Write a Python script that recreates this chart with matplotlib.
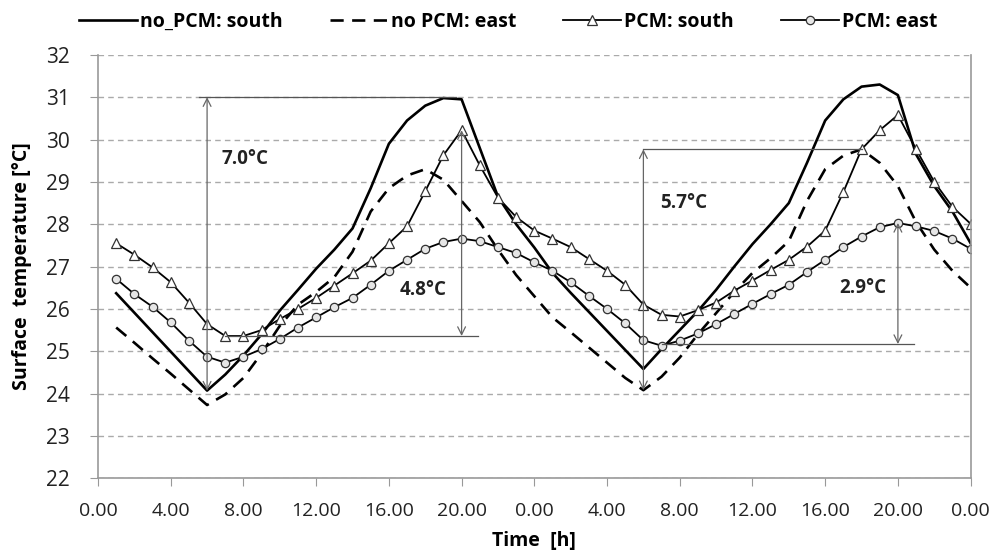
import matplotlib
matplotlib.use("Agg")
import matplotlib.pyplot as plt
import numpy as np

plt.rcParams['font.family'] = ['Open Sans', 'DejaVu Sans']

# hourly values, hours 1..48 (two days)
hours = list(range(1, 49))

nopcm_south = [26.37, 25.91, 25.45, 24.99, 24.53, 24.07, 24.45, 24.90, 25.40, 25.96,
               26.45, 26.95, 27.40, 27.90, 28.85, 29.90, 30.45, 30.80, 30.98, 30.95,
               29.80, 28.65, 28.00, 27.45, 26.85, 26.38, 25.93, 25.48, 25.03, 24.58,
               25.05, 25.50, 25.95, 26.45, 27.00, 27.53, 28.00, 28.50, 29.45, 30.45,
               30.95, 31.25, 31.30, 31.05, 29.65, 28.90, 28.30, 27.55]

nopcm_east = [25.56, 25.20, 24.83, 24.47, 24.10, 23.73, 23.98, 24.37, 24.95, 25.60,
              26.10, 26.40, 26.75, 27.35, 28.30, 28.85, 29.15, 29.30, 29.05, 28.55,
              28.05, 27.40, 26.80, 26.30, 25.80, 25.45, 25.09, 24.73, 24.37, 24.08,
              24.40, 24.85, 25.40, 25.90, 26.40, 26.85, 27.20, 27.60, 28.55, 29.30,
              29.62, 29.77, 29.45, 28.90, 28.05, 27.40, 26.90, 26.50]

pcm_south = [27.55, 27.28, 26.98, 26.63, 26.15, 25.64, 25.36, 25.36, 25.50, 25.76,
             26.00, 26.26, 26.55, 26.84, 27.14, 27.55, 27.95, 28.78, 29.63, 30.22,
             29.39, 28.63, 28.17, 27.85, 27.66, 27.46, 27.18, 26.90, 26.57, 26.10,
             25.86, 25.82, 25.97, 26.15, 26.43, 26.67, 26.92, 27.16, 27.47, 27.85,
             28.76, 29.77, 30.22, 30.58, 29.77, 29.00, 28.41, 28.01]

pcm_east = [26.71, 26.35, 26.05, 25.68, 25.25, 24.87, 24.73, 24.87, 25.05, 25.29,
            25.56, 25.80, 26.04, 26.26, 26.57, 26.90, 27.16, 27.42, 27.58, 27.66,
            27.60, 27.46, 27.32, 27.10, 26.90, 26.63, 26.31, 26.00, 25.66, 25.26,
            25.13, 25.25, 25.42, 25.64, 25.88, 26.12, 26.35, 26.57, 26.87, 27.16,
            27.46, 27.71, 27.93, 28.03, 27.95, 27.84, 27.66, 27.42]

xticks = list(range(0, 49, 4))
xticklabels = ['0.00', '4.00', '8.00', '12.00', '16.00', '20.00',
               '0.00', '4.00', '8.00', '12.00', '16.00', '20.00', '0.00']

# annotation: (x of arrow, top, bottom, label x, label y, label)
spans = [(6.0, 31.0, 24.07, 6.8, 29.55, '7.0°C'),
         (20.0, 30.22, 25.36, 16.6, 26.45, '4.8°C'),
         (30.0, 29.77, 24.08, 30.9, 28.5, '5.7°C'),
         (44.0, 28.03, 25.17, 40.75, 26.5, '2.9°C')]
# reference lines: (y, x start, x end)
reflines = [(31.0, 5.55, 19.7), (25.36, 7.0, 20.9),
            (29.77, 30.0, 42.0), (25.17, 31.0, 44.9)]

fig = plt.figure(figsize=(9.95, 5.6), dpi=100)
ax = fig.add_axes([0.0985, 0.146, 0.877, 0.756])

ax.plot(hours, nopcm_south, color='black', lw=1.9, label='no_PCM: south')
ax.plot(hours, nopcm_east, color='black', lw=1.9, ls=(0, (5, 3.2)), label='no PCM: east')
ax.plot(hours, pcm_south, color='black', lw=1.3, marker='^', ms=6.5,
        mfc='white', mec='#333333', mew=0.9, label='PCM: south')
ax.plot(hours, pcm_east, color='black', lw=1.3, marker='o', ms=6,
        mfc='#e6e6e6', mec='#333333', mew=0.9, label='PCM: east')

for y, x0, x1 in reflines:
    ax.plot([x0, x1], [y, y], color='#555555', lw=0.9)
for x, top, bot, tx, ty, txt in spans:
    ax.annotate('', xy=(x, top), xytext=(x, bot),
                arrowprops=dict(arrowstyle='<->', color='#666666', lw=0.9,
                                mutation_scale=14, shrinkA=0, shrinkB=0))
    ax.text(tx, ty, txt, fontsize=13.5, fontweight='bold', color='#222222',
            ha='left', va='center')

ax.set_xlim(0, 48)
ax.set_ylim(22, 32)
ax.set_xticks(xticks)
ax.set_xticklabels(xticklabels)
ax.set_yticks(range(22, 33))
ax.yaxis.grid(True, color='#aaaaaa', ls=(0, (4, 3)), lw=1.0)
ax.set_axisbelow(True)

for s in ['left', 'bottom', 'right']:
    ax.spines[s].set_color('#999999')
    ax.spines[s].set_linewidth(1.2)
ax.spines['top'].set_visible(False)
ax.tick_params(axis='y', direction='out', length=6, color='#999999',
               labelsize=15, labelcolor='#222222', pad=14)
ax.tick_params(axis='x', direction='out', length=6, color='#999999',
               labelsize=14, labelcolor='#222222', pad=11)

ax.set_xlabel('Time  [h]', fontsize=14, fontweight='bold', labelpad=8)
ax.set_ylabel('Surface  temperature [°C]', fontsize=14, fontweight='bold', labelpad=10)

ax.legend(loc='lower center', bbox_to_anchor=(0.47, 1.012), ncol=4, frameon=False,
          handlelength=3.0, handletextpad=0.15, columnspacing=2.4,
          prop={'weight': 'bold', 'size': 14})

fig.savefig('out.png', dpi=100)
